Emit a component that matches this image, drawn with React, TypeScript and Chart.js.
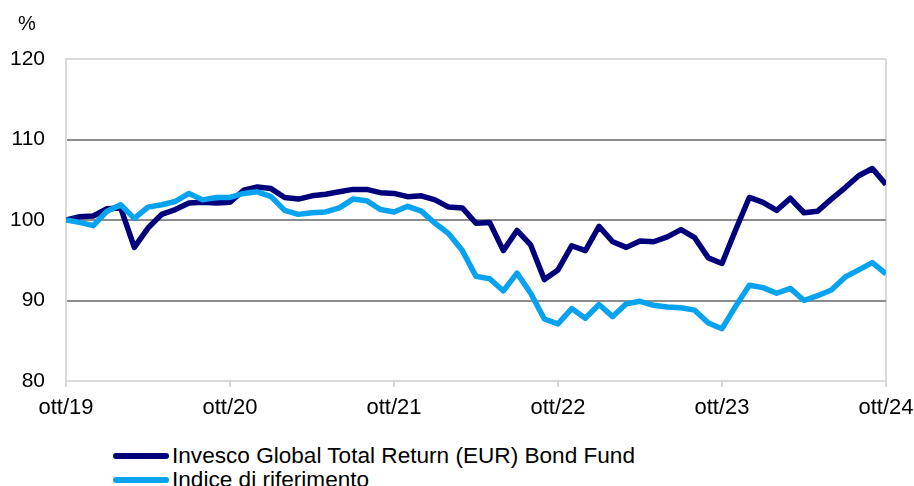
import React, { useEffect, useRef } from "react";
import { Chart, registerables } from "chart.js";

Chart.register(...registerables);

const tickLabels = ["ott/19", "ott/20", "ott/21", "ott/22", "ott/23", "ott/24"];
const yTicks = [80, 90, 100, 110, 120];

const fundName = "Invesco Global Total Return (EUR) Bond Fund";
const benchName = "Indice di riferimento";

const fund = [
  100, 100.4, 100.5, 101.4, 101.5, 96.6, 99.0, 100.7, 101.3, 102.1, 102.2, 102.1,
  102.2, 103.7, 104.1, 103.9, 102.8, 102.6, 103.0, 103.2, 103.5, 103.8, 103.8, 103.4,
  103.3, 102.9, 103.0, 102.5, 101.6, 101.5, 99.6, 99.7, 96.2, 98.7, 96.9, 92.6,
  93.8, 96.8, 96.2, 99.2, 97.3, 96.6, 97.4, 97.3, 97.9, 98.8, 97.8, 95.3,
  94.6, 98.8, 102.8, 102.2, 101.2, 102.7, 100.9, 101.1, 102.6, 104.0, 105.5, 106.4,
  104.4,
];

const bench = [
  100, 99.7, 99.3, 101.1, 101.9, 100.2, 101.6, 101.9, 102.3, 103.3, 102.5, 102.8,
  102.8, 103.3, 103.5, 102.9, 101.2, 100.7, 100.9, 101.0, 101.5, 102.6, 102.4, 101.3,
  101.0, 101.7, 101.1, 99.6, 98.3, 96.2, 93.0, 92.7, 91.2, 93.4, 90.9, 87.7,
  87.1, 89.0, 87.8, 89.5, 88.0, 89.6, 89.9, 89.4, 89.2, 89.1, 88.8, 87.2,
  86.5, 89.3, 91.9, 91.6, 90.9, 91.5, 90.0, 90.6, 91.3, 92.9, 93.8, 94.7,
  93.3,
];

const FONT = "'Liberation Sans', Arial, sans-serif";
const DARK = "#00007c";
const LIGHT = "#07a2f0";

export default function App() {
  const ref = useRef<HTMLCanvasElement | null>(null);

  useEffect(() => {
    if (!ref.current) return;
    const percentPlugin = {
      id: "percentLabel",
      afterDraw(chart: any) {
        const ctx = chart.ctx;
        ctx.save();
        ctx.font = `20px ${FONT}`;
        ctx.fillStyle = "#000";
        ctx.textAlign = "left";
        ctx.textBaseline = "middle";
        ctx.fillText("%", 18, 24);
        ctx.restore();
      },
    };
    const chart = new Chart(ref.current, {
      type: "line",
      data: {
        datasets: [
          {
            label: fundName,
            data: fund.map((v, i) => ({ x: i, y: v })),
            borderColor: DARK,
            backgroundColor: DARK,
            borderWidth: 5.5,
            pointRadius: 0,
            tension: 0,
            order: 1,
            borderJoinStyle: "round",
          },
          {
            label: benchName,
            data: bench.map((v, i) => ({ x: i, y: v })),
            borderColor: LIGHT,
            backgroundColor: LIGHT,
            borderWidth: 5.5,
            pointRadius: 0,
            tension: 0,
            order: 0,
            borderJoinStyle: "round",
          },
        ],
      },
      options: {
        animation: false,
        responsive: false,
        maintainAspectRatio: false,
        layout: { padding: { top: 59, left: 0, right: 0, bottom: 0 } },
        plugins: {
          legend: { display: false },
          tooltip: { enabled: false },
        },
        scales: {
          x: {
            type: "linear",
            min: 0,
            max: 60,
            afterFit(scale: any) {
              scale.height = 49;
              scale.paddingRight = 28;
              scale.paddingLeft = 0;
            },
            afterBuildTicks(scale: any) {
              scale.ticks = tickLabels.map((_, i) => ({ value: i * 12 }));
            },
            ticks: {
              callback: (v: any) => tickLabels[Math.round(Number(v) / 12)],
              font: { family: FONT, size: 22 },
              color: "#000",
              padding: 8,
              maxRotation: 0,
              autoSkip: false,
            },
            grid: {
              drawOnChartArea: true,
              color: (c: any) => (c.tick && c.tick.value === 60 ? "#d9d9d9" : "rgba(0,0,0,0)"),
              tickColor: "#d9d9d9",
              tickLength: 6,
              lineWidth: 2,
            },
            border: { color: "#d9d9d9", width: 2 },
          },
          y: {
            min: 80,
            max: 120,
            afterFit(scale: any) {
              scale.width = 66;
            },
            afterBuildTicks(scale: any) {
              scale.ticks = yTicks.map((v) => ({ value: v }));
            },
            ticks: {
              font: { family: FONT, size: 21 },
              color: "#000",
              padding: 21,
            },
            grid: {
              drawTicks: false,
              color: (c: any) =>
                c.tick && (c.tick.value === 120 || c.tick.value === 80) ? "#d9d9d9" : "#8c8c8c",
              lineWidth: 2,
            },
            border: { color: "#d9d9d9", width: 2 },
          },
        },
      },
      plugins: [percentPlugin],
    } as any);
    return () => chart.destroy();
  }, []);

  const legendRow = (color: string, text: string, top: number) => (
    <div
      style={{
        position: "absolute",
        left: 113,
        top: top - 13,
        height: 26,
        display: "flex",
        alignItems: "center",
        fontFamily: FONT,
        fontSize: 22.6,
        color: "#000",
        whiteSpace: "nowrap",
      }}
    >
      <span style={{ display: "inline-block", width: 56, height: 6, background: color, borderRadius: 3, marginRight: 3 }} />
      <span>{text}</span>
    </div>
  );

  return (
    <div style={{ position: "fixed", left: 0, top: 0, width: 914, height: 486, background: "#fff", overflow: "hidden" }}>
      <canvas ref={ref} width={914} height={430} style={{ position: "absolute", left: 0, top: 0, width: 914, height: 430 }} />
      {legendRow(DARK, fundName, 456)}
      {legendRow(LIGHT, benchName, 480)}
    </div>
  );
}
